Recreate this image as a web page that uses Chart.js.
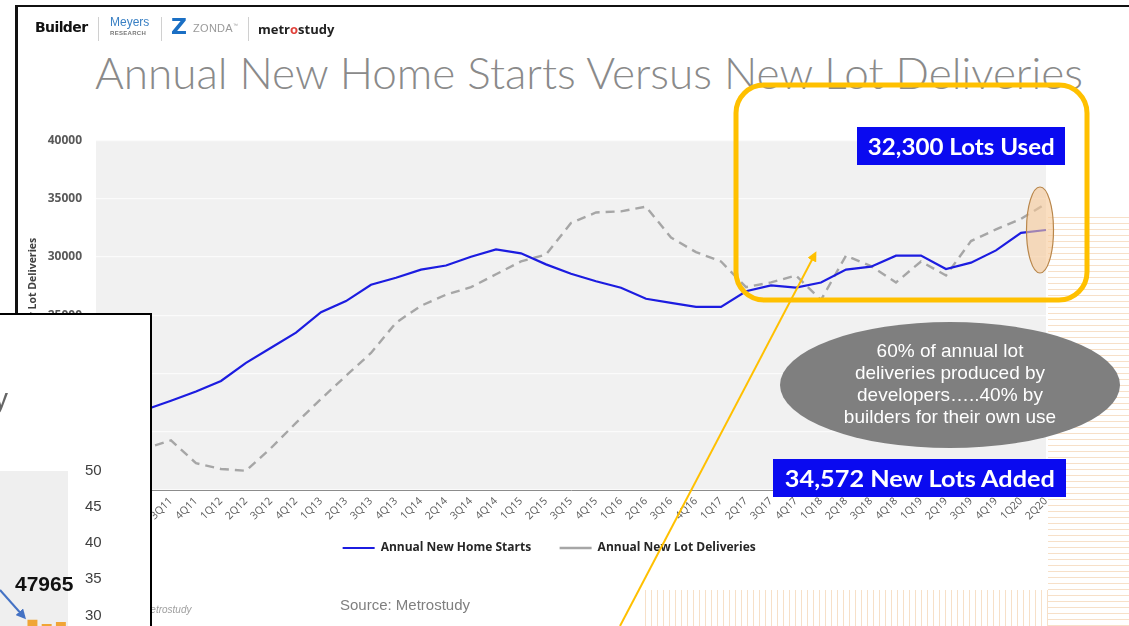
<!DOCTYPE html>
<html>
<head>
<meta charset="utf-8">
<script src="https://cdn.jsdelivr.net/npm/chart.js@4.4.0/dist/chart.umd.min.js"></script>
<style>
  html, body { margin: 0; padding: 0; }
  body { width: 1129px; height: 626px; overflow: hidden; position: relative; background: #fff; font-family: "Liberation Sans", Arial, sans-serif; }
  .abs { position: absolute; white-space: nowrap; }
  #rayasDer { left: 1048px; top: 212px; width: 81px; height: 414px; z-index: 1;
    background: repeating-linear-gradient(to bottom, #fff 0 5px, #f7e0c8 5px 6px); }
  #rayasAbajo { left: 640px; top: 590px; width: 408px; height: 36px; z-index: 1;
    background: repeating-linear-gradient(to right, #fff 0 5px, #f7e0c8 5px 6px); }
  #principal { left: 0; top: 119px; width: 1052px; height: 445px; z-index: 2; }
  #deco { left: 0; top: 0; z-index: 3; }
  .sep { width: 1px; height: 24px; top: 17px; background: #d0d0d0; z-index: 4; }
  .caja { background: #0a0af0; color: #fff; font-family: Lato, "Open Sans", sans-serif; font-weight: 700;
    display: flex; align-items: center; justify-content: center; z-index: 4; }
  .caja span { display: inline-block; transform-origin: center center; }
  #marcoIzq { left: 15px; top: 5px; width: 3px; height: 621px; background: #111; z-index: 5; }
  #marcoSup { left: 15px; top: 5px; width: 1114px; height: 2px; background: #111; z-index: 5; }
  #inset { left: -4px; top: 313px; width: 156px; height: 320px; box-sizing: border-box; border: 2px solid #000;
    background: #fff; overflow: hidden; z-index: 6; }
  #insetChart { left: -58px; top: 130px; width: 180px; height: 413px; }
</style>
</head>
<body>
<div id="rayasDer" class="abs"></div>
<div id="rayasAbajo" class="abs"></div>

<!-- cabecera -->
<div class="abs" style="left:35px;top:19px;font:900 14px 'DejaVu Sans';letter-spacing:-0.6px;color:#111;z-index:4">Builder</div>
<div class="abs sep" style="left:98px"></div>
<div class="abs" style="left:110px;top:15px;font:12px 'Liberation Sans';color:#3a80c4;z-index:4">Meyers</div>
<div class="abs" style="left:110px;top:30px;font:bold 6px 'Liberation Sans';color:#777;letter-spacing:0.3px;z-index:4">RESEARCH</div>
<div class="abs sep" style="left:161px"></div>
<div class="abs" style="left:171px;top:14px;font:900 22px 'DejaVu Sans';color:#1a6fc4;z-index:4">Z</div>
<div class="abs" style="left:193px;top:22px;font:11px 'Liberation Sans';color:#9a9a9a;letter-spacing:0.3px;z-index:4">ZONDA<sup style="font-size:5px">™</sup></div>
<div class="abs sep" style="left:248px"></div>
<div class="abs" style="left:258px;top:20px;font:bold 13px 'Open Sans';color:#222;z-index:4">metr<span style="color:#e0413a">o</span>study</div>

<div id="titulo" class="abs" style="left:95px;top:46px;font:300 44px Lato, 'Open Sans';color:#8a8a8a;z-index:2">Annual New Home Starts Versus New Lot Deliveries</div>

<div id="principal" class="abs"><canvas id="graficaPrincipal"></canvas></div>

<svg id="deco" class="abs" width="1129" height="626">
  <defs>
    <marker id="punta" markerWidth="10" markerHeight="10" refX="7" refY="5" orient="auto" markerUnits="userSpaceOnUse">
      <path d="M0,0 L10,5 L0,10 z" fill="#ffc000"/>
    </marker>
  </defs>
  <rect x="736" y="85" width="351" height="215" rx="28" ry="28" fill="none" stroke="#ffc000" stroke-width="5"/>
  <ellipse cx="1040" cy="230" rx="13.5" ry="43" fill="rgba(246,200,150,0.6)" stroke="#b8864b" stroke-width="1.2"/>
  <ellipse cx="950" cy="385" rx="170" ry="63" fill="#7f7f7f"/>
  <line x1="620" y1="626" x2="815" y2="254" stroke="#ffc000" stroke-width="2" marker-end="url(#punta)"/>
</svg>

<div class="abs caja" style="left:857px;top:127px;width:208px;height:38px"><span id="txtUsados" style="font-size:22px">32,300 Lots Used</span></div>
<div class="abs caja" style="left:773px;top:459px;width:293px;height:38px"><span id="txtNuevos" style="font-size:23px">34,572 New Lots Added</span></div>
<div class="abs" style="left:780px;top:340px;width:340px;text-align:center;font:19px/22px 'Liberation Sans';color:#fff;z-index:4">60% of annual lot<br>deliveries produced by<br>developers…..40% by<br>builders for their own use</div>

<div class="abs" style="left:340px;top:596px;font:15px 'Liberation Sans';color:#7f7f7f;z-index:4">Source: Metrostudy</div>
<div class="abs" style="left:142px;top:604px;font:italic 10px 'Liberation Sans';color:#a0a0a0;z-index:4">metrostudy</div>

<div id="marcoIzq" class="abs"></div>
<div id="marcoSup" class="abs"></div>

<div id="inset" class="abs">
  <div class="abs" style="left:-4px;top:68px;font:28px 'Liberation Sans';color:#666">y</div>
  <div id="insetChart" class="abs"><canvas id="graficaInset"></canvas></div>
  <div class="abs" style="left:17px;top:257px;font:bold 21px 'Liberation Sans';color:#111">47965</div>
  <svg class="abs" style="left:0;top:0" width="156" height="320">
    <defs>
      <marker id="puntaAzul" markerWidth="10" markerHeight="10" refX="7" refY="5" orient="auto" markerUnits="userSpaceOnUse">
        <path d="M0,0 L10,5 L0,10 z" fill="#4472c4"/>
      </marker>
    </defs>
    <line x1="2" y1="275" x2="26" y2="302" stroke="#4472c4" stroke-width="2" marker-end="url(#puntaAzul)"/>
  </svg>
</div>

<script>
// categorias y series (grafica principal)
const trimestres = ['4Q10','1Q11','2Q11','3Q11','4Q11','1Q12','2Q12','3Q12','4Q12','1Q13','2Q13','3Q13','4Q13',
  '1Q14','2Q14','3Q14','4Q14','1Q15','2Q15','3Q15','4Q15','1Q16','2Q16','3Q16','4Q16','1Q17','2Q17','3Q17','4Q17',
  '1Q18','2Q18','3Q18','4Q18','1Q19','2Q19','3Q19','4Q19','1Q20','2Q20'];
const inicios = [16000,16300,16900,17650,18450,19350,20900,22200,23500,25250,26200,27600,28200,
  28900,29250,30000,30630,30300,29350,28550,27900,27350,26400,26050,25700,25700,27050,27550,27350,
  27800,28900,29150,30100,30100,28950,29500,30550,32050,32300];
const lotes = [13000,13200,13600,14250,12300,11800,11650,13600,15750,17800,19800,21750,24350,
  25800,26750,27400,28500,29600,30200,32900,33800,33900,34300,31650,30400,29600,27400,27800,28400,
  26300,30100,29200,27800,29600,28400,31350,32350,33250,34572];
const ejeYMin = 10000, ejeYMax = 40000, ejeYPaso = 5000;

// grafica recortada de la izquierda
const periodosInset = ['1','2','3','4','5','6','7','8','9'];
const barrasInset = [null,null,null,null,null,null,29.4,28.8,29.1];
const insetYMin = 0, insetYMax = 50, insetYPaso = 5;

//Fondo gris del area de trazado
const fondoArea = {
  id: 'fondoArea',
  beforeDraw(chart, args, opts) {
    const {ctx, chartArea: a} = chart;
    ctx.save();
    ctx.fillStyle = opts.color;
    ctx.fillRect(a.left, a.top, a.right - a.left, a.bottom - a.top);
    ctx.restore();
  }
};

const grafica = new Chart(document.getElementById('graficaPrincipal'), {
  type: 'line',
  plugins: [fondoArea],
  data: {
    labels: trimestres,
    datasets: [{
      label: 'Annual New Home Starts',
      data: inicios,
      borderColor: '#1c1ce0',
      backgroundColor: '#1c1ce0',
      borderWidth: 2.2,
      pointRadius: 0,
      tension: 0
    }, {
      label: 'Annual New Lot Deliveries',
      data: lotes,
      borderColor: '#a6a6a6',
      backgroundColor: '#a6a6a6',
      borderWidth: 2.4,
      borderDash: [9, 6],
      pointRadius: 0,
      tension: 0
    }]
  },
  options: {
    responsive: true,
    maintainAspectRatio: false,
    animation: false,
    layout: { padding: { left: 23, right: 6, top: 10, bottom: 0 } },
    scales: {
      x: {
        grid: { display: false, drawTicks: false },
        border: { display: true, color: '#8c8c8c', width: 1 },
        ticks: {
          autoSkip: false, minRotation: 45, maxRotation: 45, padding: 5,
          color: '#595959', font: { family: 'Open Sans', size: 10.5 }
        },
        afterFit: s => { s.height = 36; s.paddingLeft = 0; s.paddingRight = 0; }
      },
      y: {
        min: ejeYMin, max: ejeYMax,
        grid: { color: '#fbfbfb', lineWidth: 1.2, drawTicks: false },
        border: { display: false },
        ticks: {
          stepSize: ejeYPaso, padding: 14, color: '#595959',
          font: { family: 'Open Sans', size: 12, weight: 'bold' },
          callback: v => String(v)
        },
        title: {
          display: true, text: '      Annual New Lot Deliveries', color: '#404040',
          font: { family: 'Open Sans', size: 10.5, weight: 'bold' }
        },
        afterFit: s => { s.width = 73; }
      }
    },
    plugins: {
      fondoArea: { color: '#f1f1f1' },
      tooltip: { enabled: false },
      legend: {
        position: 'bottom',
        fullSize: false,
        labels: {
          usePointStyle: true, pointStyle: 'line', pointStyleWidth: 32, padding: 16,
          color: '#262626', font: { family: 'Open Sans', size: 12, weight: 'bold' },
          generateLabels: chart => {
            const items = Chart.defaults.plugins.legend.labels.generateLabels(chart);
            items[0].text = items[0].text + '    ';
            items[1].text = items[1].text + '              ';
            return items;
          }
        }
      }
    }
  }
});

const inset = new Chart(document.getElementById('graficaInset'), {
  type: 'bar',
  plugins: [fondoArea],
  data: {
    labels: periodosInset,
    datasets: [{ data: barrasInset, backgroundColor: '#f0a536', barPercentage: 0.7, categoryPercentage: 1 }]
  },
  options: {
    responsive: true,
    maintainAspectRatio: false,
    animation: false,
    layout: { padding: { top: 4, bottom: 0, left: 0, right: 0 } },
    scales: {
      x: { display: false },
      y: {
        position: 'right', min: insetYMin, max: insetYMax,
        grid: { display: false, drawTicks: false },
        border: { display: false },
        ticks: { stepSize: insetYPaso, padding: 17, color: '#404040', font: { family: 'Liberation Sans', size: 15 } },
        afterFit: s => { s.width = 52; }
      }
    },
    plugins: { fondoArea: { color: '#efefef' }, legend: { display: false }, tooltip: { enabled: false } }
  }
});

//Ajustar anchos de textos
function ajustarAncho(id, ancho, origen) {
  const el = document.getElementById(id);
  const w = el.getBoundingClientRect().width;
  el.style.transformOrigin = origen;
  el.style.transform = 'scaleX(' + (ancho / w) + ')';
}
ajustarAncho('titulo', 988, 'left top');
ajustarAncho('txtUsados', 187, 'center center');
ajustarAncho('txtNuevos', 270, 'center center');
</script>
</body>
</html>
